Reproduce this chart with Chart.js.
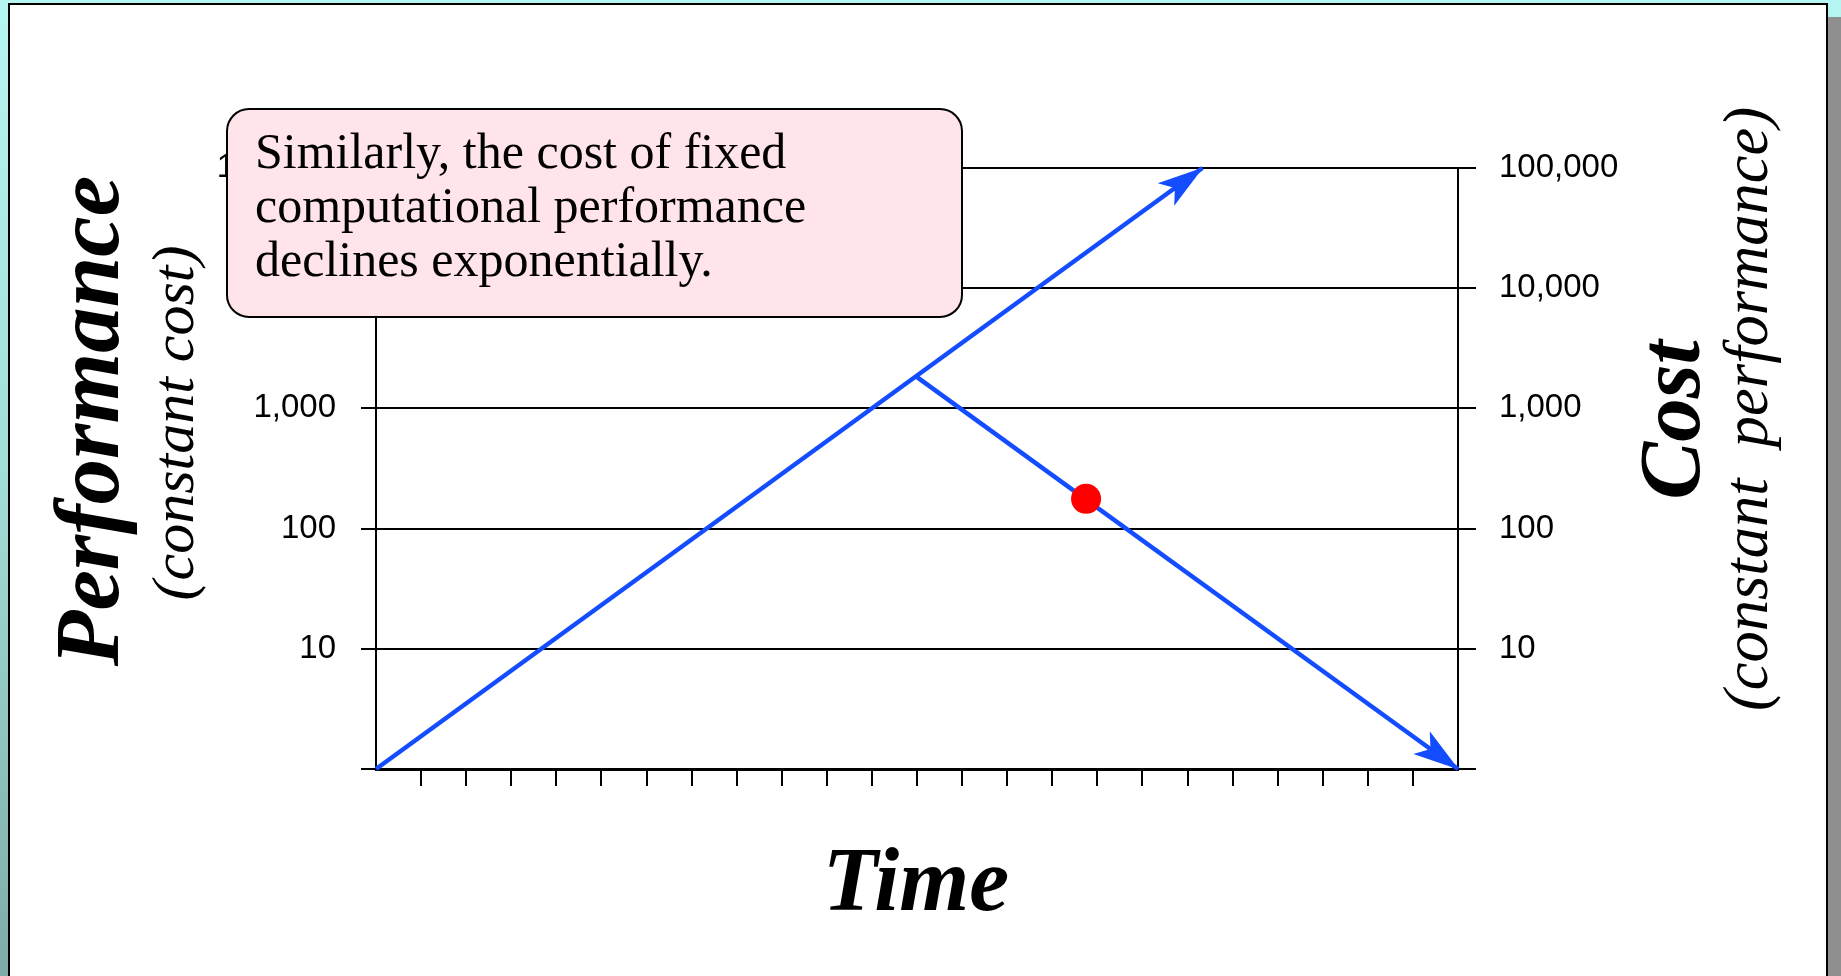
<!DOCTYPE html>
<html>
<head>
<meta charset="utf-8">
<title>Performance and cost over time</title>
<script src="https://cdn.jsdelivr.net/npm/chart.js@4.4.1/dist/chart.umd.min.js"></script>
<style>
    html, body { margin: 0; padding: 0; }
    body {
        width: 1841px; height: 976px; overflow: hidden; position: relative;
        background: linear-gradient(180deg, #b6f6f2 0%, #a2dcd6 50%, #7eaca6 100%);
    }
    #panel {
        position: absolute; left: 8px; top: 3px; width: 1816px; height: 1100px;
        background: #fff; border: 2px solid #000; box-shadow: 14px 14px 0 #8f8f8f;
    }
    #chartCanvas { position: absolute; left: 0; top: 0; }
</style>
</head>
<body>
<div id="panel"></div>
<canvas id="chartCanvas" width="1841" height="976"></canvas>
<script>
// values (x = time steps, y = log values)
const timeSteps = 24;
const perfX = [0, 18.33];
const perfY = [1, 100000];
const costX = [12, 24];
const costY = [1820, 1];
const dotX = [15.75];
const dotY = [177];
const yTickValues = [1, 10, 100, 1000, 10000, 100000];

const lineBlue = '#144cff';
const serif = '"Liberation Serif", "Times New Roman", serif';

function toPoints(xs, ys) {
    return xs.map((x, i) => ({ x: x, y: ys[i] }));
}

function logTicks(scale) {
    scale.ticks = yTickValues.map(v => ({ value: v }));
}

function tickLabel(value) {
    return value === 1 ? '' : Number(value).toLocaleString('en-US');
}

function vText(ctx, txt, x, y, font) {
    ctx.save();
    ctx.translate(x, y);
    ctx.rotate(-Math.PI / 2);
    ctx.font = font;
    ctx.textAlign = 'center';
    ctx.textBaseline = 'alphabetic';
    ctx.fillStyle = '#000';
    ctx.fillText(txt, 0, 0);
    ctx.restore();
}

// arrow heads at the end of both blue lines
const arrowHeads = {
    id: 'arrowHeads',
    afterDatasetsDraw(chart) {
        const ctx = chart.ctx;
        chart.data.datasets.forEach((ds, i) => {
            if (!ds.arrow) return;
            const pts = chart.getDatasetMeta(i).data;
            const a = pts[pts.length - 2], b = pts[pts.length - 1];
            const ang = Math.atan2(b.y - a.y, b.x - a.x);
            ctx.save();
            ctx.translate(b.x, b.y);
            ctx.rotate(ang);
            ctx.beginPath();
            ctx.moveTo(1, 0);
            ctx.lineTo(-45, -14);
            ctx.lineTo(-34, 0);
            ctx.lineTo(-45, 14);
            ctx.closePath();
            ctx.fillStyle = lineBlue;
            ctx.fill();
            ctx.restore();
        });
    }
};

// axis titles and the callout box
const annotations = {
    id: 'annotations',
    afterDraw(chart) {
        const ctx = chart.ctx;
        vText(ctx, 'Performance', 118, 421, 'bold italic 91px ' + serif);
        vText(ctx, '(constant cost)', 193, 423, 'italic 60px ' + serif);
        vText(ctx, 'Cost', 1699, 420, 'bold italic 87px ' + serif);
        vText(ctx, '(constant  performance)', 1767, 409, 'italic 62.5px ' + serif);

        ctx.save();
        ctx.font = 'bold italic 90px ' + serif;
        ctx.textAlign = 'center';
        ctx.fillStyle = '#000';
        ctx.fillText('Time', 916, 910);

        ctx.beginPath();
        ctx.roundRect(227, 109, 735, 208, 22);
        ctx.fillStyle = '#ffe4e9';
        ctx.fill();
        ctx.lineWidth = 2;
        ctx.strokeStyle = '#000';
        ctx.stroke();

        ctx.font = '50px ' + serif;
        ctx.textAlign = 'left';
        ctx.fillStyle = '#000';
        ctx.fillText('Similarly, the cost of fixed', 255, 168);
        ctx.fillText('computational performance', 255, 222);
        ctx.fillText('declines exponentially.', 255, 276);
        ctx.restore();
    }
};

const tickFont = { family: '"Liberation Sans", Arial, sans-serif', size: 33 };

new Chart(document.getElementById('chartCanvas'), {
    type: 'line',
    data: {
        datasets: [
            {
                label: 'Fixed performance point',
                data: toPoints(dotX, dotY),
                showLine: false,
                pointRadius: 15,
                pointBackgroundColor: '#ff0000',
                pointBorderWidth: 0,
                clip: false
            },
            {
                label: 'Performance',
                data: toPoints(perfX, perfY),
                borderColor: lineBlue,
                borderWidth: 4.5,
                pointRadius: 0,
                arrow: true,
                clip: false
            },
            {
                label: 'Cost',
                data: toPoints(costX, costY),
                borderColor: lineBlue,
                borderWidth: 4.5,
                pointRadius: 0,
                arrow: true,
                clip: false
            }
        ]
    },
    options: {
        responsive: false,
        animation: false,
        devicePixelRatio: 1,
        layout: { padding: { left: 0, right: 0, top: 168, bottom: 0 } },
        plugins: {
            legend: { display: false },
            tooltip: { enabled: false }
        },
        scales: {
            x: {
                type: 'linear',
                min: 0,
                max: timeSteps,
                afterBuildTicks: scale => {
                    const t = [];
                    for (let i = 0; i <= timeSteps; i++) t.push({ value: i });
                    scale.ticks = t;
                },
                afterFit: scale => { scale.height = 207; },
                ticks: { display: false },
                grid: {
                    drawOnChartArea: false,
                    tickLength: 17,
                    lineWidth: 2,
                    color: ctx => (ctx.tick && (ctx.tick.value === 0 || ctx.tick.value === timeSteps)) ? 'rgba(0,0,0,0)' : '#000'
                },
                border: { display: true, color: '#000', width: 3 }
            },
            y: {
                type: 'logarithmic',
                position: 'left',
                min: 1,
                max: 100000,
                afterBuildTicks: logTicks,
                afterFit: scale => { scale.width = 376; },
                ticks: { color: '#000', font: tickFont, padding: 25, callback: tickLabel, autoSkip: false },
                grid: { color: '#000', lineWidth: 2, tickLength: 15 },
                border: { display: true, color: '#000', width: 2 }
            },
            y2: {
                type: 'logarithmic',
                position: 'right',
                min: 1,
                max: 100000,
                afterBuildTicks: logTicks,
                afterFit: scale => { scale.width = 383; },
                ticks: { color: '#000', font: tickFont, padding: 23, callback: tickLabel, autoSkip: false },
                grid: { drawOnChartArea: false, color: '#000', lineWidth: 2, tickLength: 18 },
                border: { display: true, color: '#000', width: 2 }
            }
        }
    },
    plugins: [arrowHeads, annotations]
});
</script>
</body>
</html>
